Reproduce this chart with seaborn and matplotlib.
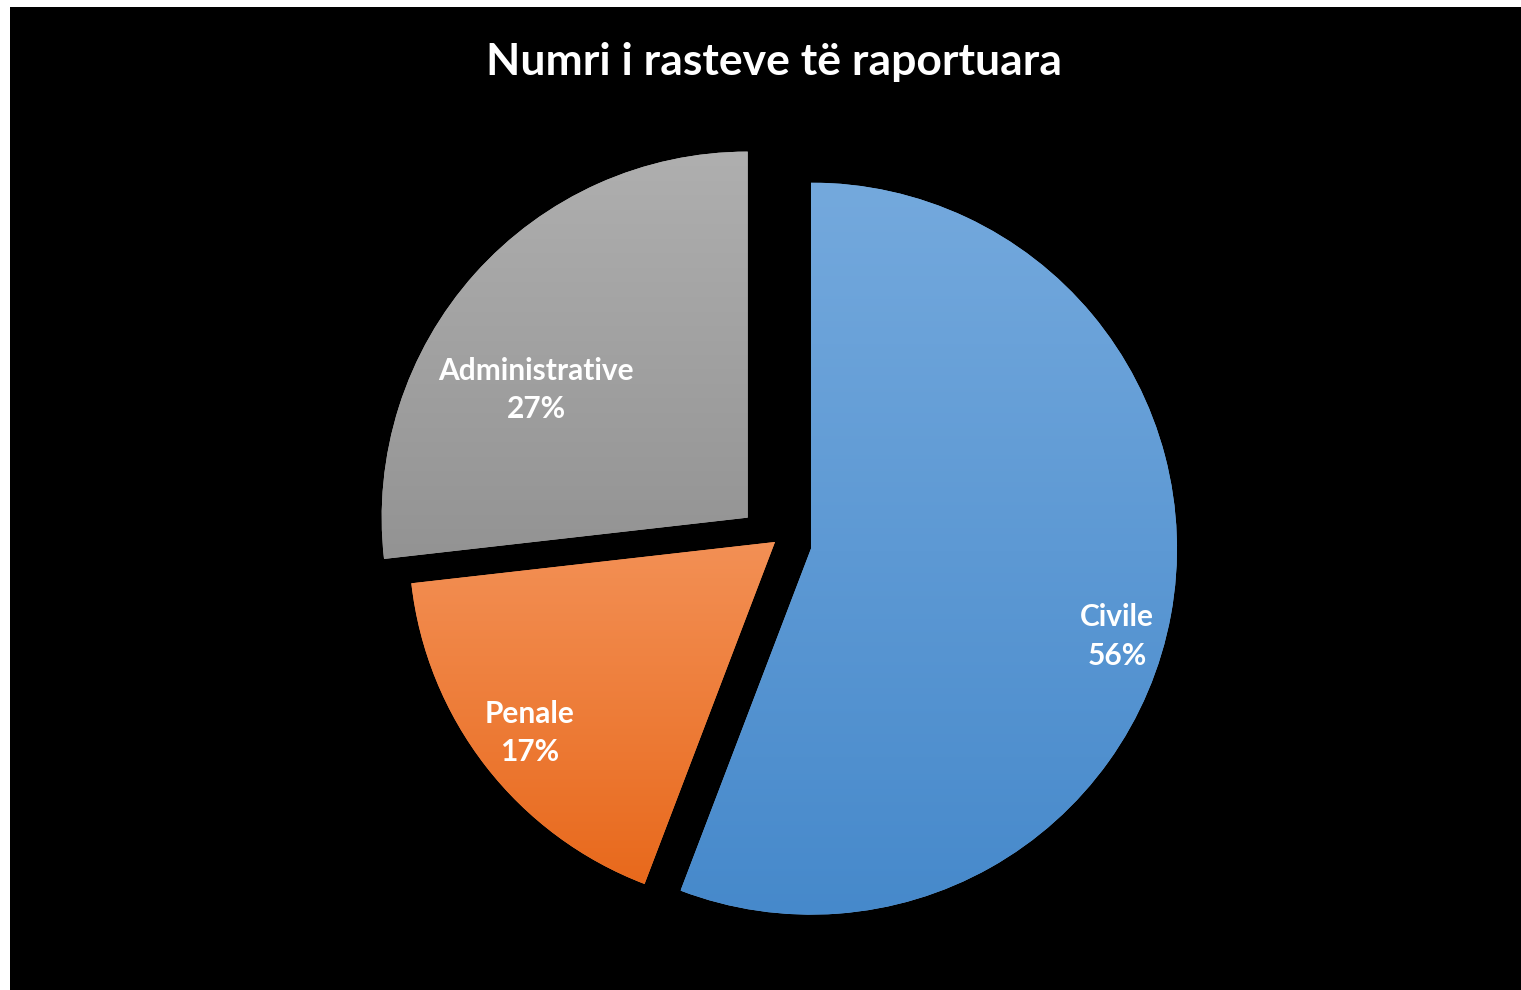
import numpy as np
import matplotlib
matplotlib.use("Agg")
import matplotlib.pyplot as plt
from matplotlib.colors import LinearSegmentedColormap
import seaborn as sns

# data (share of reported cases)
categories = ["Civile", "Penale", "Administrative"]
shares = [55.8, 17.4, 26.8]

# styling
explode = [0.1, 0, 0.1]
grad_top = ["#74A9DD", "#F39055", "#AFAFAF"]
grad_bottom = ["#4689CB", "#E8691C", "#939393"]
label_radius = [0.87, 0.85, 0.675]
label_turn = [5.6, 0.0, -10.6]  # degrees, clockwise from slice middle

sns.set_theme(style="white")
plt.rcParams['font.family'] = ['Lato', 'DejaVu Sans']

W, H = 1521, 990
fig = plt.figure(figsize=(W / 100, H / 100), dpi=100, facecolor="white")

# black plot area, leaving the thin white margin top/left
left, top = 10, 7
ax = fig.add_axes([left / W, 0, (W - left) / W, (H - top) / H])

r_px = 366.0
cx, cy = 775.0, 542.0
xlim = ((left - cx) / r_px, (W - cx) / r_px)
ylim = (-(H - cy) / r_px, (cy - top) / r_px)

wedges, _ = ax.pie(shares, explode=explode, startangle=90, counterclock=False,
                   colors=grad_top, wedgeprops=dict(linewidth=0))

ax.set_frame_on(True)
ax.set_facecolor("black")
for s in ax.spines.values():
    s.set_visible(False)
ax.set_xticks([])
ax.set_yticks([])

# vertical gradient inside every slice
for w, c1, c0 in zip(wedges, grad_top, grad_bottom):
    v = w.get_path().vertices
    x0, x1 = v[:, 0].min(), v[:, 0].max()
    y0, y1 = v[:, 1].min(), v[:, 1].max()
    cmap = LinearSegmentedColormap.from_list("g", [c0, c1])
    im = ax.imshow(np.linspace(0, 1, 256).reshape(-1, 1), extent=[x0, x1, y0, y1],
                   origin="lower", cmap=cmap, aspect="auto", zorder=w.get_zorder())
    im.set_clip_path(w)

# labels
for w, name, val, rf, turn in zip(wedges, categories, shares, label_radius, label_turn):
    ang = np.deg2rad((w.theta1 + w.theta2) / 2 - turn)
    x = w.center[0] + rf * w.r * np.cos(ang)
    y = w.center[1] + rf * w.r * np.sin(ang)
    ax.text(x, y, f"{name}\n{val:.0f}%", ha="center", va="center", color="white",
            fontsize=21.5, fontweight="bold", linespacing=1.45, zorder=5)

ax.set_xlim(*xlim)
ax.set_ylim(*ylim)
ax.set_aspect("auto")

fig.text((W / 2 + 14) / W, 1 - 62 / H, "Numri i rasteve të raportuara", ha="center", va="center",
         color="white", fontsize=32, fontweight="bold")

fig.savefig("out.png", dpi=100, facecolor=fig.get_facecolor())
